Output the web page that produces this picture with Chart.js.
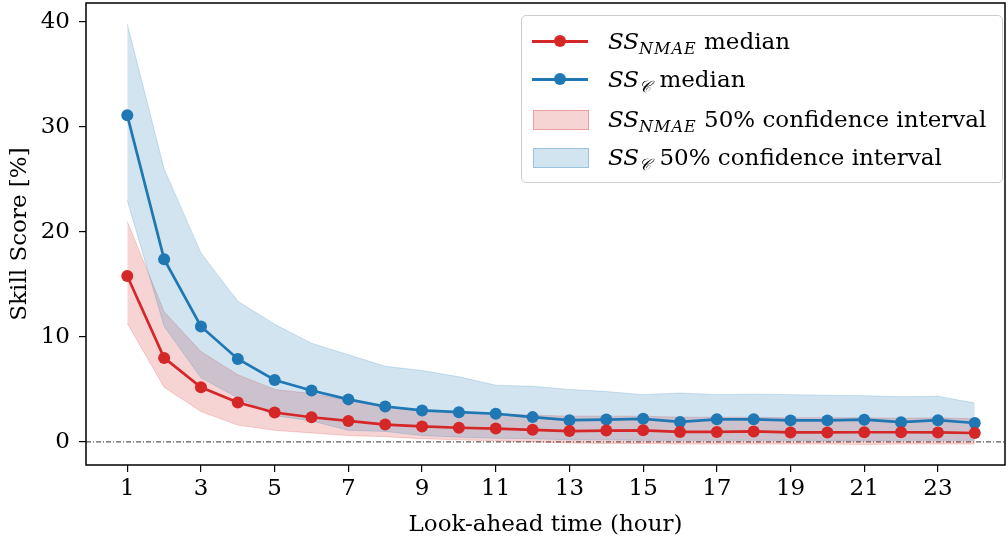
<!doctype html>
<html lang="en">
<head>
  <meta charset="utf-8">
  <title>Skill score vs look-ahead time</title>
  <script src="https://cdn.jsdelivr.net/npm/chart.js@4.4.0/dist/chart.umd.min.js"></script>
  <style>
    body { margin: 0; background: #fff; }
    #wrap { position: relative; width: 1008px; height: 545px; }
    #legend {
      position: absolute; left: 521px; top: 15px; width: 480px; height: 166px;
      background: rgba(255,255,255,0.8); border: 1px solid #cccccc; border-radius: 5px;
      font-family: "DejaVu Serif", serif; font-size: 23px; color: #000;
    }
    .row { position: absolute; left: 0; height: 30px; line-height: 30px; white-space: nowrap; }
    .row .txt { position: absolute; left: 86px; top: 0; }
    .row sub { font-size: 16px; vertical-align: -5px; line-height: 0; letter-spacing: 1px; }
    .ico { position: absolute; left: 10px; top: 0; width: 56px; height: 30px; }
    .line { position: absolute; left: 0; top: 14px; width: 56px; height: 3px; }
    .dot { position: absolute; left: 22px; top: 9px; width: 12px; height: 12px; border-radius: 6px; }
    .patch { position: absolute; left: 1px; top: 6px; width: 54px; height: 18px; }
  </style>
</head>
<body>
<div id="wrap">
  <canvas id="myChart" width="1008" height="545"></canvas>
  <div id="legend">
    <div class="row" style="top:10px">
      <div class="ico"><div class="line" style="background:#d62728"></div><div class="dot" style="background:#d62728"></div></div>
      <span class="txt"><i>SS</i><sub><i>NMAE</i></sub> median</span>
    </div>
    <div class="row" style="top:48px">
      <div class="ico"><div class="line" style="background:#1f77b4"></div><div class="dot" style="background:#1f77b4"></div></div>
      <span class="txt"><i>SS</i><sub><i>𝒞</i></sub>&nbsp;median</span>
    </div>
    <div class="row" style="top:88px">
      <div class="ico"><div class="patch" style="background:rgba(214,39,40,0.2);border:1px solid rgba(214,39,40,0.3)"></div></div>
      <span class="txt"><i>SS</i><sub><i>NMAE</i></sub> 50% confidence interval</span>
    </div>
    <div class="row" style="top:126px">
      <div class="ico"><div class="patch" style="background:rgba(31,119,180,0.2);border:1px solid rgba(31,119,180,0.3)"></div></div>
      <span class="txt"><i>SS</i><sub><i>𝒞</i></sub>&nbsp;50% confidence interval</span>
    </div>
  </div>
</div>

<script>
// look-ahead hours and ticks
var hours = [1,2,3,4,5,6,7,8,9,10,11,12,13,14,15,16,17,18,19,20,21,22,23,24];
var xTicks = [1,3,5,7,9,11,13,15,17,19,21,23];
var yTicks = [0,10,20,30,40];

// SS_NMAE
var nmaeMedian = [15.8,8.0,5.2,3.75,2.8,2.35,2.0,1.65,1.47,1.35,1.27,1.15,1.03,1.08,1.1,0.95,0.95,1.0,0.9,0.9,0.92,0.92,0.9,0.85];
var nmaeLow    = [11.3,5.2,2.9,1.6,1.1,0.85,0.6,0.5,0.3,0.2,0.1,0.0,-0.1,-0.15,-0.15,-0.2,-0.2,-0.2,-0.2,-0.2,-0.25,-0.2,-0.2,-0.2];
var nmaeHigh   = [21.0,12.4,8.6,6.4,5.0,4.6,3.95,3.3,3.0,2.85,2.7,2.55,2.45,2.45,2.45,2.35,2.35,2.35,2.3,2.3,2.3,2.25,2.3,2.2];

// SS_C
var cMedian = [31.1,17.4,11.0,7.9,5.9,4.9,4.05,3.37,3.0,2.83,2.68,2.36,2.07,2.13,2.2,1.9,2.15,2.15,2.05,2.05,2.12,1.88,2.07,1.8];
var cLow    = [23.0,11.0,6.1,4.2,2.5,2.0,1.1,1.0,0.6,0.45,0.35,0.3,0.2,0.2,0.15,0.15,0.15,0.15,0.15,0.1,0.1,0.15,0.15,0.15];
var cHigh   = [39.8,26.0,18.0,13.4,11.2,9.4,8.3,7.2,6.8,6.2,5.4,5.3,5.0,4.8,4.5,4.65,4.5,4.55,4.5,4.45,4.4,4.3,4.35,3.7];

function pts(arr) { return hours.map(function (h, i) { return {x: h, y: arr[i]}; }); }

var RED = '#d62728', BLUE = '#1f77b4';
var serif = '"DejaVu Serif", serif';

// frame box + dash-dot zero line
var extras = {
  id: 'extras',
  beforeDatasetsDraw: function (chart) {
    var c = chart.ctx, a = chart.chartArea, y0 = chart.scales.y.getPixelForValue(0);
    c.save();
    c.strokeStyle = '#000'; c.lineWidth = 0.8; c.setLineDash([5, 2, 1, 2]);
    c.beginPath(); c.moveTo(a.left, y0); c.lineTo(a.right, y0); c.stroke();
    c.restore();
  },
  afterDraw: function (chart) {
    var c = chart.ctx, a = chart.chartArea;
    c.save();
    c.strokeStyle = '#000'; c.lineWidth = 1.5;
    c.strokeRect(a.left, a.top, a.right - a.left, a.bottom - a.top);
    c.restore();
  }
};

var ctx = document.getElementById('myChart').getContext('2d');
var myChart = new Chart(ctx, {
  type: 'line',
  data: {
    datasets: [
      { label: 'nmae low', data: pts(nmaeLow), borderColor: 'rgba(214,39,40,0.2)', borderWidth: 1, pointRadius: 0, fill: false, order: 5 },
      { label: 'nmae high', data: pts(nmaeHigh), borderColor: 'rgba(214,39,40,0.2)', backgroundColor: 'rgba(214,39,40,0.2)', borderWidth: 1, pointRadius: 0, fill: 0, order: 5 },
      { label: 'c low', data: pts(cLow), borderColor: 'rgba(31,119,180,0.2)', borderWidth: 1, pointRadius: 0, fill: false, order: 4 },
      { label: 'c high', data: pts(cHigh), borderColor: 'rgba(31,119,180,0.2)', backgroundColor: 'rgba(31,119,180,0.2)', borderWidth: 1, pointRadius: 0, fill: 2, order: 4 },
      { label: 'nmae median', data: pts(nmaeMedian), borderColor: RED, backgroundColor: RED, borderWidth: 2.7, pointRadius: 6, pointBorderWidth: 0, fill: false, order: 1 },
      { label: 'c median', data: pts(cMedian), borderColor: BLUE, backgroundColor: BLUE, borderWidth: 2.7, pointRadius: 6, pointBorderWidth: 0, fill: false, order: 2 }
    ]
  },
  options: {
    responsive: false,
    animation: false,
    layout: { autoPadding: false, padding: { left: 0, right: 3, top: 3, bottom: 0 } },
    plugins: { legend: { display: false }, tooltip: { enabled: false } },
    scales: {
      x: {
        type: 'linear', min: -0.12, max: 24.82,
        afterBuildTicks: function (s) { s.ticks = xTicks.map(function (v) { return {value: v}; }); },
        afterFit: function (s) { s.height = 80; s.paddingLeft = 0; s.paddingRight = 0; },
        border: { display: false },
        grid: { drawOnChartArea: false, drawTicks: true, tickLength: 7, color: '#000', lineWidth: 1.2 },
        ticks: { color: '#000', font: { family: serif, size: 23 }, padding: 3, maxRotation: 0 },
        title: { display: true, text: 'Look-ahead time (hour)', color: '#000', font: { family: serif, size: 23 }, padding: { top: 0, bottom: 6 } }
      },
      y: {
        min: -2.2, max: 41.8,
        afterBuildTicks: function (s) { s.ticks = yTicks.map(function (v) { return {value: v}; }); },
        afterFit: function (s) { s.width = 86; s.paddingTop = 0; s.paddingBottom = 0; },
        border: { display: false },
        grid: { drawOnChartArea: false, drawTicks: true, tickLength: 7, color: '#000', lineWidth: 1.2 },
        ticks: { color: '#000', font: { family: serif, size: 23 }, padding: 9 },
        title: { display: true, text: 'Skill Score [%]', color: '#000', font: { family: serif, size: 23 }, padding: { top: 6, bottom: 0 } }
      }
    }
  },
  plugins: [extras]
});
</script>
</body>
</html>
